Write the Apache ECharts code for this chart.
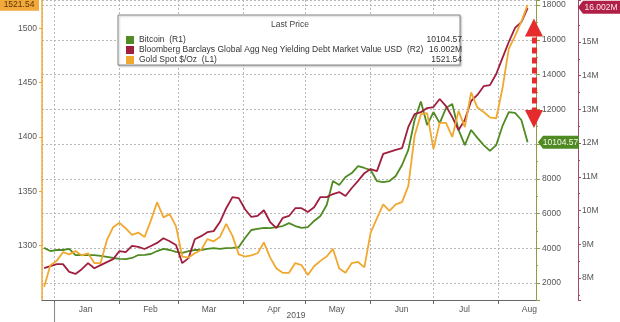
<!DOCTYPE html>
<html>
<head>
<meta charset="utf-8">
<script src="https://cdn.jsdelivr.net/npm/echarts@6/dist/echarts.min.js"></script>
<style>
  html, body { margin: 0; padding: 0; background: #fff; }
  #chart { width: 620px; height: 322px; }
</style>
</head>
<body>
<div id="chart"></div>
<script>
// Observation dates (every third day)
const dates = [
  '2018-12-27','2018-12-30',
  '2019-01-02','2019-01-05','2019-01-08','2019-01-11','2019-01-14','2019-01-17','2019-01-20','2019-01-23','2019-01-26','2019-01-29',
  '2019-02-01','2019-02-04','2019-02-07','2019-02-10','2019-02-13','2019-02-16','2019-02-19','2019-02-22','2019-02-25','2019-02-28',
  '2019-03-03','2019-03-06','2019-03-09','2019-03-12','2019-03-15','2019-03-18','2019-03-21','2019-03-24','2019-03-27','2019-03-30',
  '2019-04-02','2019-04-05','2019-04-08','2019-04-11','2019-04-14','2019-04-17','2019-04-20','2019-04-23','2019-04-26','2019-04-29',
  '2019-05-02','2019-05-05','2019-05-08','2019-05-11','2019-05-14','2019-05-17','2019-05-20','2019-05-23','2019-05-26','2019-05-29',
  '2019-06-01','2019-06-04','2019-06-07','2019-06-10','2019-06-13','2019-06-16','2019-06-19','2019-06-22','2019-06-25','2019-06-28',
  '2019-07-01','2019-07-04','2019-07-07','2019-07-10','2019-07-13','2019-07-16','2019-07-19','2019-07-22','2019-07-25','2019-07-28','2019-07-31',
  '2019-08-03','2019-08-06','2019-08-09','2019-08-12','2019-08-15'
];

// Bitcoin, USD (right axis R1)
const bitcoin = [
  4020, 3840,
  3900, 3900, 3960, 3610, 3620, 3610, 3600, 3560, 3500, 3440,
  3390, 3380, 3440, 3610, 3620, 3670, 3840, 3960, 3900, 3790,
  3730, 3840, 3900, 3900, 3960, 4010, 3960, 4010, 4020, 4070,
  4590, 5050, 5110, 5170, 5160, 5220, 5280, 5450, 5280, 5170,
  5220, 5570, 5860, 6490, 7870, 7640, 8100, 8330, 8730, 8620,
  8500, 7870, 7810, 7870, 8160, 8790, 9660, 11380, 12450, 11090,
  11840, 11200, 12070, 12300, 10810, 9940, 10810, 10350, 9940, 9600, 9940,
  11040, 11840, 11790, 11380, 10104.57
];

// Negative-yielding debt market value, millions (right axis R2)
const negYieldDebt = [
  8.29, 8.35,
  8.41, 8.41, 8.18, 8.12, 8.26, 8.44, 8.29, 8.38, 8.47, 8.56,
  8.80, 8.77, 8.95, 8.92, 8.86, 8.95, 9.04, 9.18, 9.09, 8.98,
  8.44, 8.59, 9.15, 9.24, 9.36, 9.39, 9.66, 10.07, 10.40, 10.37,
  10.04, 9.81, 9.84, 10.01, 9.66, 9.48, 9.78, 9.84, 10.07, 10.07,
  9.96, 10.10, 10.40, 10.40, 10.49, 10.55, 10.43, 10.67, 10.88, 11.11,
  11.23, 11.17, 11.68, 11.74, 11.80, 11.85, 12.48, 12.86, 12.92, 13.04,
  13.07, 13.31, 13.10, 12.77, 12.39, 12.69, 13.25, 13.43, 13.69, 13.72, 14.05,
  14.53, 15.00, 15.42, 15.59, 16.002
];

// Gold spot, $/oz (left axis L1)
const goldSpot = [
  1262, 1282,
  1286, 1294, 1292, 1295, 1291, 1293, 1284, 1284, 1305, 1317,
  1321, 1316, 1310, 1312, 1308, 1323, 1340, 1326, 1329, 1318,
  1290, 1289, 1293, 1296, 1306, 1304, 1308, 1320, 1309, 1292,
  1290, 1291, 1293, 1303, 1289, 1279, 1275, 1275, 1284, 1282,
  1273, 1281, 1286, 1290, 1297, 1279, 1275, 1284, 1285, 1280,
  1312, 1325, 1338, 1332, 1338, 1340, 1355, 1401, 1421, 1422,
  1389, 1413, 1413, 1400, 1424, 1409, 1441, 1427, 1423, 1418, 1417,
  1445, 1481, 1493, 1506, 1521.54
];

const monthLabels = ['Jan','Feb','Mar','Apr','May','Jun','Jul','Aug','Sep','Oct','Nov','Dec'];
const yearLabel = '2019';
const seriesNames = [
  'Bitcoin  (R1)',
  'Bloomberg Barclays Global Agg Neg Yielding Debt Market Value USD  (R2)',
  'Gold Spot $/Oz  (L1)'
];

const last = arr => arr[arr.length - 1];
const lastText = [
  last(bitcoin).toFixed(2),
  last(negYieldDebt).toFixed(3) + 'M',
  last(goldSpot).toFixed(2)
];

const COLORS = { btc: '#4f8a22', debt: '#a01e3e', gold: '#f0a830', arrow: '#e52b2b' };
const FONT = '"Liberation Sans", Arial, sans-serif';
const FS = 8.5;
const DAY = 86400000;

const pairs = arr => dates.map((d, i) => [d, arr[i]]);
const dottedGrid = { show: true, lineStyle: { color: '#b8b8b8', type: [2, 2], width: 1 } };
const plain = v => String(v);

const chart = echarts.init(document.getElementById('chart'), null, { renderer: 'canvas' });

chart.setOption({
  animation: false,
  backgroundColor: '#fff',
  textStyle: { fontFamily: FONT },
  grid: { left: 42, right: 84, top: 0, bottom: 22, containLabel: false, outerBoundsMode: 'none' },
  legend: {
    orient: 'vertical', left: 121, top: 30,
    itemWidth: 8, itemHeight: 8, itemGap: 0, icon: 'rect',
    selectedMode: false, z: 5,
    data: seriesNames,
    formatter: name => `{n|${name}}{v|${lastText[seriesNames.indexOf(name)]}}`,
    textStyle: {
      fontFamily: FONT, fontSize: FS, color: '#333', lineHeight: 10,
      rich: {
        n: { width: 287, fontFamily: FONT, fontSize: FS, color: '#333' },
        v: { width: 36, align: 'right', fontFamily: FONT, fontSize: FS, color: '#333' }
      }
    }
  },
  xAxis: {
    type: 'time',
    min: '2018-12-26', max: '2019-08-19',
    splitNumber: 8, minInterval: 28 * DAY, maxInterval: 31 * DAY,
    axisLine: { lineStyle: { color: '#666' } },
    axisTick: { length: 4, lineStyle: { color: '#666' } },
    axisLabel: {
      color: '#555', fontSize: FS, fontFamily: FONT, margin: 5,
      padding: [0, 0, 0, 62],
      formatter: v => { const d = new Date(v); return d.getDate() === 1 ? monthLabels[d.getMonth()] : ''; }
    },
    splitLine: dottedGrid
  },
  yAxis: [
    {
      type: 'value', position: 'left',
      min: 1250, max: 1526, interval: 50,
      axisLine: { show: true, lineStyle: { color: '#f0aa38', width: 1.5 } },
      axisTick: { show: true, length: 3, lineStyle: { color: '#f0aa38' } },
      axisLabel: { color: '#555', fontSize: FS, fontFamily: FONT, margin: 5, showMinLabel: false, showMaxLabel: false, formatter: plain },
      splitLine: { show: false }
    },
    {
      type: 'value', position: 'right',
      min: 1022, max: 18288, minInterval: 2000, maxInterval: 2000,
      axisLine: { show: true, lineStyle: { color: '#8f9c48' } },
      axisTick: { show: true, length: 4, lineStyle: { color: '#8f9c48' } },
      minorTick: { show: true, splitNumber: 2, length: 2, lineStyle: { color: '#8f9c48' } },
      axisLabel: { color: '#555', fontSize: FS, fontFamily: FONT, margin: 6, showMinLabel: false, showMaxLabel: false, formatter: plain },
      splitLine: dottedGrid
    },
    {
      type: 'value', position: 'right', offset: 42,
      min: 7.347, max: 16.246, minInterval: 1, maxInterval: 1,
      axisLine: { show: true, lineStyle: { color: '#a34a68' } },
      axisTick: { show: true, length: 3, lineStyle: { color: '#a34a68' } },
      minorTick: { show: true, splitNumber: 2, length: 2, lineStyle: { color: '#a34a68' } },
      axisLabel: { color: '#555', fontSize: FS, fontFamily: FONT, margin: 4, showMinLabel: false, showMaxLabel: false,
                   formatter: v => v + 'M' },
      splitLine: { show: false }
    }
  ],
  series: [
    {
      name: seriesNames[0], type: 'line', yAxisIndex: 1,
      data: pairs(bitcoin), symbol: 'none',
      lineStyle: { color: COLORS.btc, width: 1.8 }, itemStyle: { color: COLORS.btc },
      markLine: {
        silent: true, animation: false,
        symbol: ['triangle', 'triangle'], symbolSize: [18, 18],
        lineStyle: { color: COLORS.arrow, width: 5, type: [6, 4], opacity: 1 },
        itemStyle: { color: COLORS.arrow },
        label: { show: false },
        data: [[{ coord: ['2019-08-18', 16700] }, { coord: ['2019-08-18', 11440] }]]
      }
    },
    {
      name: seriesNames[1], type: 'line', yAxisIndex: 2,
      data: pairs(negYieldDebt), symbol: 'none',
      lineStyle: { color: COLORS.debt, width: 1.8 }, itemStyle: { color: COLORS.debt }
    },
    {
      name: seriesNames[2], type: 'line', yAxisIndex: 0,
      data: pairs(goldSpot), symbol: 'none',
      lineStyle: { color: COLORS.gold, width: 1.8 }, itemStyle: { color: COLORS.gold }
    }
  ]
});

// Frame, title, year caption and last-value tags, placed from the axes' own scales
const yGold = chart.convertToPixel({ yAxisIndex: 0 }, last(goldSpot));
const yBtc = chart.convertToPixel({ yAxisIndex: 1 }, last(bitcoin));
const yDebt = chart.convertToPixel({ yAxisIndex: 2 }, last(negYieldDebt));
const xYear = chart.convertToPixel({ xAxisIndex: 0 }, new Date(2019, 0, 1).getTime());

const tagFont = `${FS}px ${FONT}`;
const arrowTag = (x0, x1, yc, fill, text, textColor) => ([
  {
    type: 'polygon', z: 10,
    shape: { points: [[x0, yc], [x0 + 5, yc - 6.5], [x1, yc - 6.5], [x1, yc + 6.5], [x0 + 5, yc + 6.5]] },
    style: { fill }
  },
  {
    type: 'text', z: 11, x: (x0 + 4 + x1) / 2, y: yc,
    style: { text, fill: textColor, font: tagFont, align: 'center', verticalAlign: 'middle' }
  }
]);

chart.setOption({
  graphic: [
    {
      type: 'rect', z: 3,
      shape: { x: 118, y: 15, width: 342, height: 50 },
      style: { fill: '#fff', stroke: '#8a8a8a', lineWidth: 1,
               shadowBlur: 2, shadowColor: 'rgba(0,0,0,0.25)', shadowOffsetX: 1, shadowOffsetY: 1 }
    },
    {
      type: 'text', z: 4, x: 290, y: 25,
      style: { text: 'Last Price', fill: '#444', font: tagFont, align: 'center', verticalAlign: 'middle' }
    },
    {
      type: 'text', z: 4, x: 296, y: 316,
      style: { text: yearLabel, fill: '#555', font: tagFont, align: 'center', verticalAlign: 'middle' }
    },
    {
      type: 'line', z: 4,
      shape: { x1: xYear, y1: 302, x2: xYear, y2: 322 },
      style: { stroke: '#888', lineWidth: 1 }
    },
    {
      type: 'rect', z: 10,
      shape: { x: 0, y: yGold - 6, width: 39, height: 12 },
      style: { fill: '#f2a93b' }
    },
    {
      type: 'text', z: 11, x: 19, y: yGold,
      style: { text: lastText[2], fill: '#5a3500', font: tagFont, align: 'center', verticalAlign: 'middle' }
    },
    ...arrowTag(538, 579, yBtc, COLORS.btc, lastText[0], '#f2f7ea'),
    ...arrowTag(578, 620, yDebt - 1, '#b01f45', lastText[1], '#fbe8ec')
  ]
});
</script>
</body>
</html>
